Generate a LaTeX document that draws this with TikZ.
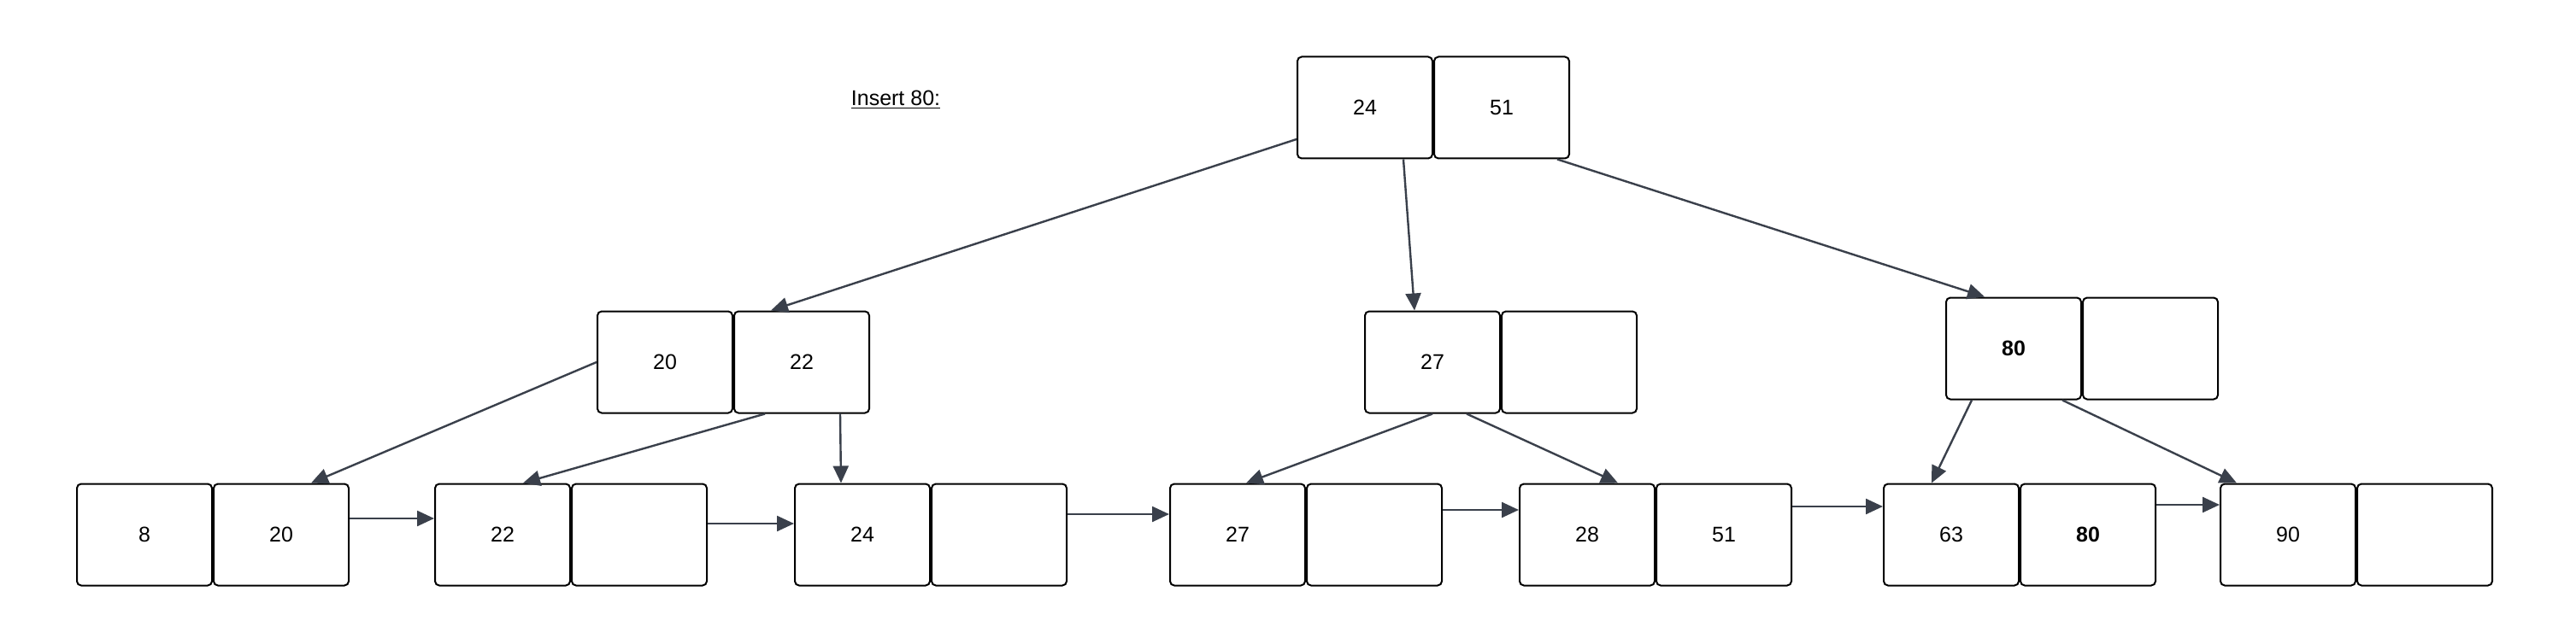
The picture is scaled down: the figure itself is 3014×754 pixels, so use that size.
\documentclass[tikz,border=0pt]{standalone}
\usepackage{fontspec}
\setmainfont{Liberation Sans}
\usetikzlibrary{arrows.meta,positioning}
\definecolor{linkgray}{HTML}{3A404B}
\tikzset{
  cell/.style={draw=black, line width=1pt, rounded corners=2.5pt, fill=white,
    minimum width=79pt, minimum height=59.5pt, inner sep=0pt,
    font=\fontsize{12.5}{14}\selectfont},
  link/.style={draw=linkgray, line width=1.2pt, -{Triangle[length=10pt,width=9pt]}},
}
\begin{document}
\begin{tikzpicture}[x=0.5pt, y=-0.5pt, node distance=0pt]
  \useasboundingbox (0,0) rectangle (3014,754);

  % Label
  \node[font=\fontsize{12.5}{14}\selectfont] (title) at (1048,117) {\underline{Insert 80:}};

  % Root
  \node[cell] (r1) at (1597,126) {24};
  \node[cell, right=of r1] (r2) {51};

  % Inner nodes
  \node[cell] (a1) at (778,424) {20};
  \node[cell, right=of a1] (a2) {22};
  \node[cell] (b1) at (1676,424) {27};
  \node[cell, right=of b1] (b2) {};
  \node[cell] (c1) at (2356,408) {\textbf{80}};
  \node[cell, right=of c1] (c2) {};

  % Leaves
  \node[cell] (l1a) at (169,626) {8};
  \node[cell, right=of l1a] (l1b) {20};
  \node[cell] (l2a) at (588,626) {22};
  \node[cell, right=of l2a] (l2b) {};
  \node[cell] (l3a) at (1009,626) {24};
  \node[cell, right=of l3a] (l3b) {};
  \node[cell] (l4a) at (1448,626) {27};
  \node[cell, right=of l4a] (l4b) {};
  \node[cell] (l5a) at (1857,626) {28};
  \node[cell, right=of l5a] (l5b) {51};
  \node[cell] (l6a) at (2283,626) {63};
  \node[cell, right=of l6a] (l6b) {\textbf{80}};
  \node[cell] (l7a) at (2677,626) {90};
  \node[cell, right=of l7a] (l7b) {};

  % Child pointers
  \draw[link] ([yshift=-18.5pt]r1.west) -- ([xshift=-18pt]a2.north);
  \draw[link] ([xshift=22.5pt]r1.south) -- ([xshift=-10.5pt]b1.north);
  \draw[link] ([xshift=32.5pt]r2.south) -- ([xshift=-17pt]c1.north);

  \draw[link] (a1.west) -- ([xshift=17.5pt]l1b.north);
  \draw[link] ([xshift=-21.5pt]a2.south) -- ([xshift=12pt]l2a.north);
  \draw[link] ([xshift=22.5pt]a2.south) -- ([xshift=-12.5pt]l3a.north);

  \draw[link] (b1.south) -- ([xshift=5pt]l4a.north);
  \draw[link] ([xshift=20pt]b1.south) -- ([xshift=18pt]l5a.north);

  \draw[link] ([xshift=-24.5pt]c1.south) -- ([xshift=-11.5pt]l6a.north);
  \draw[link] ([xshift=28.5pt]c1.south) -- ([xshift=-30pt]l7a.north);

  % Leaf chain
  \draw[link] ([yshift=9.5pt]l1b.east) -- ([yshift=9.5pt]l2a.west);
  \draw[link] ([yshift=6.5pt]l2b.east) -- ([yshift=6.5pt]l3a.west);
  \draw[link] ([yshift=12pt]l3b.east) -- ([yshift=12pt]l4a.west);
  \draw[link] ([yshift=14.5pt]l4b.east) -- ([yshift=14.5pt]l5a.west);
  \draw[link] ([yshift=16.5pt]l5b.east) -- ([yshift=16.5pt]l6a.west);
  \draw[link] ([yshift=17.5pt]l6b.east) -- ([yshift=17.5pt]l7a.west);
\end{tikzpicture}
\end{document}
